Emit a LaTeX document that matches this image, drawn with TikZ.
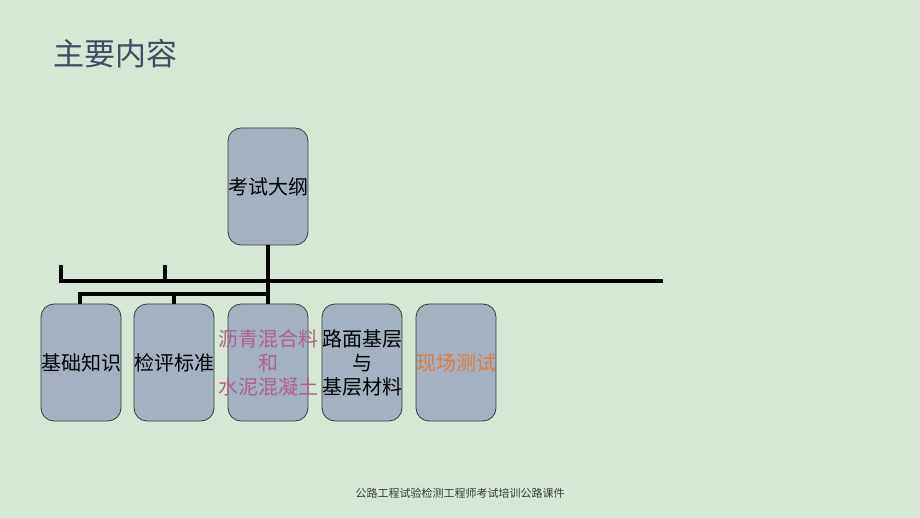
\documentclass[tikz,border=0pt]{standalone}
\usepackage{fontspec}
\newfontfamily\cjk{Noto Sans CJK SC}
\definecolor{bgc}{HTML}{D6E8D5}
\definecolor{boxc}{HTML}{A3B1C0}
\definecolor{edgec}{HTML}{3A3A3A}
\definecolor{titlec}{HTML}{3F4D63}
\definecolor{pinkc}{HTML}{B0628C}
\definecolor{orangec}{HTML}{E37A3C}
\begin{document}
\begin{tikzpicture}[x=1pt,y=-1pt,
  card/.style={draw=edgec,line width=0.8pt,fill=boxc,rounded corners=13pt,minimum width=80pt,minimum height=117pt,inner sep=0pt},
  cardtext/.style={inner sep=0pt,font=\cjk\fontsize{20}{24}\selectfont,align=center,text=#1},
  cardtext/.default=black,
  bar/.style={line width=4.5pt,black}]
\fill[bgc] (0,0) rectangle (920,518);
\useasboundingbox (0,0) rectangle (920,518);
\node[anchor=west,text=titlec,font=\cjk\fontsize{31}{35}\selectfont] (title) at (50,54) {主要内容};
\node[card] (top) at (268,186.5) {};
\node[cardtext] (topt) at (top) {考试大纲};
\node[card] (b1) at (81,362.5) {};
\node[cardtext] (b1t) at (b1) {基础知识};
\node[card] (b2) at (174,362.5) {};
\node[cardtext] (b2t) at (b2) {检评标准};
\node[card] (b3) at (268,362.5) {};
\node[cardtext=pinkc] (b3t) at (b3) {沥青混合料\\和\\水泥混凝土};
\node[card] (b4) at (362,362.5) {};
\node[cardtext] (b4t) at (b4) {路面基层\\与\\基层材料};
\node[card] (b5) at (456,362.5) {};
\node[cardtext=orangec] (b5t) at (b5) {现场测试};
\coordinate (h1l) at (61,281);
\coordinate (h1r) at (663,281);
\coordinate (t1) at (61,265);
\coordinate (t2a) at (165,265);
\coordinate (t2b) at (165,281);
\coordinate (h2l) at (80,294);
\coordinate (h2r) at (268,294);
\coordinate (m2) at (174,294);
\draw[bar] (t1) -- (h1l) -- (h1r);
\draw[bar] (t2a) -- (t2b);
\draw[bar] (top.south) -- (b3.north);
\draw[bar] (b1.north -| h2l) -- (h2l) -- (h2r);
\draw[bar] (m2) -- (b2.north);
\node[text=edgec,font=\cjk\fontsize{11}{13}\selectfont] (foot) at (460,493) {公路工程试验检测工程师考试培训公路课件};
\end{tikzpicture}
\end{document}
